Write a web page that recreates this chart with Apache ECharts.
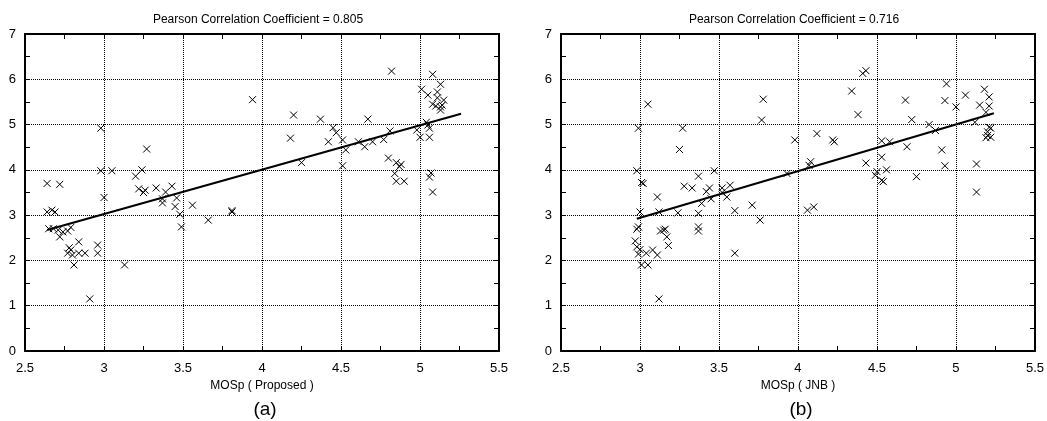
<!DOCTYPE html>
<html style="height: 100%">
<head>
<meta charset="utf-8">
<title>MOSp scatter</title>
<script src="https://cdn.jsdelivr.net/npm/echarts@6/dist/echarts.min.js"></script>
</head>
<body style="height: 100%; margin: 0; background-color: #fff;">
<div id="container" style="width: 1047px; height: 421px;"></div>
<script type="text/javascript">
// (a) MOSp (Proposed) vs subjective score
var proposedPoints = [
  [2.64, 3.70], [2.72, 3.68], [2.98, 4.92], [2.98, 3.98], [3.05, 3.98], [3.00, 3.39],
  [3.27, 4.46], [3.20, 3.86], [3.24, 4.00], [3.22, 3.58], [3.26, 3.55], [3.25, 3.50],
  [3.33, 3.60], [3.39, 3.51], [3.43, 3.64], [3.37, 3.36], [3.37, 3.27], [3.46, 3.38],
  [3.45, 3.19], [3.48, 3.02], [3.49, 2.74], [2.64, 3.07], [2.67, 3.11], [2.69, 3.07],
  [2.65, 2.70], [2.68, 2.70], [2.71, 2.67], [2.74, 2.63], [2.72, 2.52], [2.77, 2.65],
  [2.79, 2.73], [2.84, 2.41], [2.78, 2.28], [2.79, 2.23], [2.77, 2.16], [2.80, 2.12],
  [2.84, 2.16], [2.88, 2.16], [2.81, 1.90], [2.96, 2.34], [2.96, 2.16], [3.13, 1.90],
  [2.91, 1.15], [3.66, 2.89], [3.56, 3.22], [3.81, 3.10], [3.81, 3.07], [3.94, 5.55],
  [4.20, 5.21], [4.18, 4.70], [4.37, 5.12], [4.25, 4.16], [4.42, 4.62], [4.45, 4.93],
  [4.47, 4.82], [4.51, 4.66], [4.53, 4.44], [4.51, 4.09], [4.61, 4.62], [4.65, 4.51],
  [4.67, 5.12], [4.70, 4.62], [4.77, 4.67], [4.81, 4.86], [4.82, 6.18], [4.80, 4.26],
  [4.85, 4.16], [4.84, 3.92], [4.88, 4.12], [4.85, 3.75], [4.90, 3.75], [4.87, 4.07],
  [5.08, 6.11], [5.13, 5.89], [5.01, 5.78], [5.05, 5.65], [5.11, 5.72], [5.11, 5.59],
  [5.15, 5.54], [5.08, 5.45], [5.10, 5.41], [5.14, 5.43], [5.13, 5.32], [5.13, 5.39],
  [5.04, 5.05], [5.05, 4.99], [5.06, 4.92], [4.98, 4.88], [5.00, 4.72], [5.06, 4.72],
  [5.07, 3.93], [5.06, 3.84], [5.08, 3.51]
];
var proposedFit = [[2.64, 2.67], [5.26, 5.24]];

// (b) MOSp (JNB) vs subjective score
var jnbPoints = [
  [2.99, 4.92], [2.98, 3.98], [3.02, 3.70], [3.01, 3.72], [3.05, 5.45], [3.27, 4.92],
  [3.25, 4.45], [3.28, 3.64], [3.33, 3.60], [3.37, 3.86], [3.42, 3.52], [3.44, 3.60],
  [3.47, 3.98], [3.52, 3.60], [3.52, 3.50], [3.57, 3.66], [3.11, 3.40], [3.78, 5.56],
  [3.77, 5.10], [4.41, 6.13], [4.43, 6.19], [4.34, 5.74], [4.38, 5.22], [4.12, 4.80],
  [3.98, 4.66], [4.22, 4.66], [4.23, 4.62], [4.08, 4.18], [4.07, 4.10], [3.93, 3.92],
  [4.43, 4.15], [4.50, 3.96], [4.53, 4.64], [4.58, 4.62], [4.53, 4.28], [4.56, 4.00],
  [4.49, 3.88], [4.53, 3.77], [4.54, 3.74], [4.68, 5.54], [4.72, 5.11], [4.69, 4.51],
  [4.75, 3.85], [4.83, 5.00], [4.87, 4.87], [4.91, 4.44], [4.93, 4.09], [4.94, 5.90],
  [4.93, 5.53], [5.00, 5.39], [5.06, 5.65], [5.12, 5.05], [5.13, 4.13], [5.13, 3.51],
  [5.18, 5.78], [5.21, 5.61], [5.15, 5.43], [5.21, 5.41], [5.19, 5.27], [5.21, 4.94],
  [5.20, 4.84], [5.22, 4.92], [5.19, 4.71], [5.22, 4.72], [5.20, 4.76], [3.00, 3.07],
  [3.12, 3.07], [3.24, 3.05], [3.37, 3.04], [3.37, 2.74], [3.37, 2.65], [2.99, 2.74],
  [2.98, 2.69], [3.13, 2.65], [3.16, 2.69], [3.15, 2.67], [3.17, 2.52], [3.18, 2.33],
  [2.97, 2.43], [2.98, 2.30], [3.00, 2.24], [2.99, 2.14], [3.04, 2.16], [3.08, 2.23],
  [3.11, 2.12], [3.01, 1.90], [3.05, 1.90], [3.12, 1.15], [3.39, 3.26], [3.45, 3.36],
  [3.55, 3.40], [3.60, 3.10], [3.60, 2.16], [3.71, 3.22], [3.76, 2.89], [4.06, 3.11],
  [4.10, 3.18]
];
var jnbFit = [[2.98, 2.92], [5.24, 5.25]];

var titles = ['Pearson Correlation Coefficient = 0.805', 'Pearson Correlation Coefficient = 0.716'];
var xNames = ['MOSp ( Proposed )', 'MOSp ( JNB )'];
var panelTags = ['(a)', '(b)'];

var font = 'Liberation Sans, Arial, sans-serif';
var gridLefts = [25, 561];

function xAxisFor(g, pos) {
    var main = pos === 'bottom';
    return {
        type: 'value', gridIndex: g, position: pos,
        min: 2.5, max: 5.5, interval: 0.5,
        name: main ? xNames[g] : '', nameLocation: 'middle', nameGap: 29,
        nameTextStyle: { color: '#000', fontSize: 12, fontFamily: font },
        axisLine: { show: true, onZero: false, lineStyle: { color: '#000', width: 2 } },
        axisTick: { show: true, inside: true, length: 5, lineStyle: { color: '#000' } },
        minorTick: { show: true, splitNumber: 2, length: 5, lineStyle: { color: '#000' } },
        axisLabel: { show: main, color: '#000', fontSize: 13, fontFamily: font, margin: 11 },
        splitLine: { show: main, lineStyle: { color: '#000', type: 'dotted', width: 1 } }
    };
}
function yAxisFor(g, pos) {
    var main = pos === 'left';
    return {
        type: 'value', gridIndex: g, position: pos,
        min: 0, max: 7, interval: 1,
        axisLine: { show: true, onZero: false, lineStyle: { color: '#000', width: 2 } },
        axisTick: { show: true, inside: true, length: 5, lineStyle: { color: '#000' } },
        minorTick: { show: true, splitNumber: 2, length: 5, lineStyle: { color: '#000' } },
        axisLabel: { show: main, color: '#000', fontSize: 13, fontFamily: font, margin: 9 },
        splitLine: { show: main, lineStyle: { color: '#000', type: 'dotted', width: 1 } }
    };
}

var dom = document.getElementById('container');
var myChart = echarts.init(dom, null, { renderer: 'canvas' });
var crossSymbol = 'path://M0,0L10,10M10,0L0,10';
var pointSets = [proposedPoints, jnbPoints];
var fitSets = [proposedFit, jnbFit];

var option = {
    animation: false,
    backgroundColor: '#fff',
    title: [],
    grid: [],
    xAxis: [],
    yAxis: [],
    series: []
};
for (var g = 0; g < 2; g++) {
    option.grid.push({ left: gridLefts[g], top: 34, width: 474, height: 317, containLabel: false });
    option.xAxis.push(xAxisFor(g, 'bottom'));
    option.xAxis.push(xAxisFor(g, 'top'));
    option.yAxis.push(yAxisFor(g, 'left'));
    option.yAxis.push(yAxisFor(g, 'right'));
    option.title.push({
        text: titles[g], left: gridLefts[g] + 237 - 9, top: 9, textAlign: 'center',
        textStyle: { color: '#000', fontSize: 12, fontWeight: 'normal', fontFamily: font }
    });
    option.title.push({
        text: panelTags[g], left: gridLefts[g] + 235, top: 395, textAlign: 'center',
        textStyle: { color: '#000', fontSize: 19, fontWeight: 'normal', fontFamily: font }
    });
    option.series.push({
        type: 'scatter', xAxisIndex: g * 2, yAxisIndex: g * 2,
        data: pointSets[g], symbol: crossSymbol, symbolSize: 7,
        itemStyle: { color: 'transparent', borderColor: '#000', borderWidth: 1, opacity: 1 },
        silent: true, z: 3
    });
    option.series.push({
        type: 'line', xAxisIndex: g * 2, yAxisIndex: g * 2,
        data: fitSets[g], showSymbol: false, symbol: 'none',
        lineStyle: { color: '#000', width: 2 }, silent: true, z: 4
    });
}

if (option && typeof option === 'object') {
    myChart.setOption(option, true);
}
</script>
</body>
</html>
